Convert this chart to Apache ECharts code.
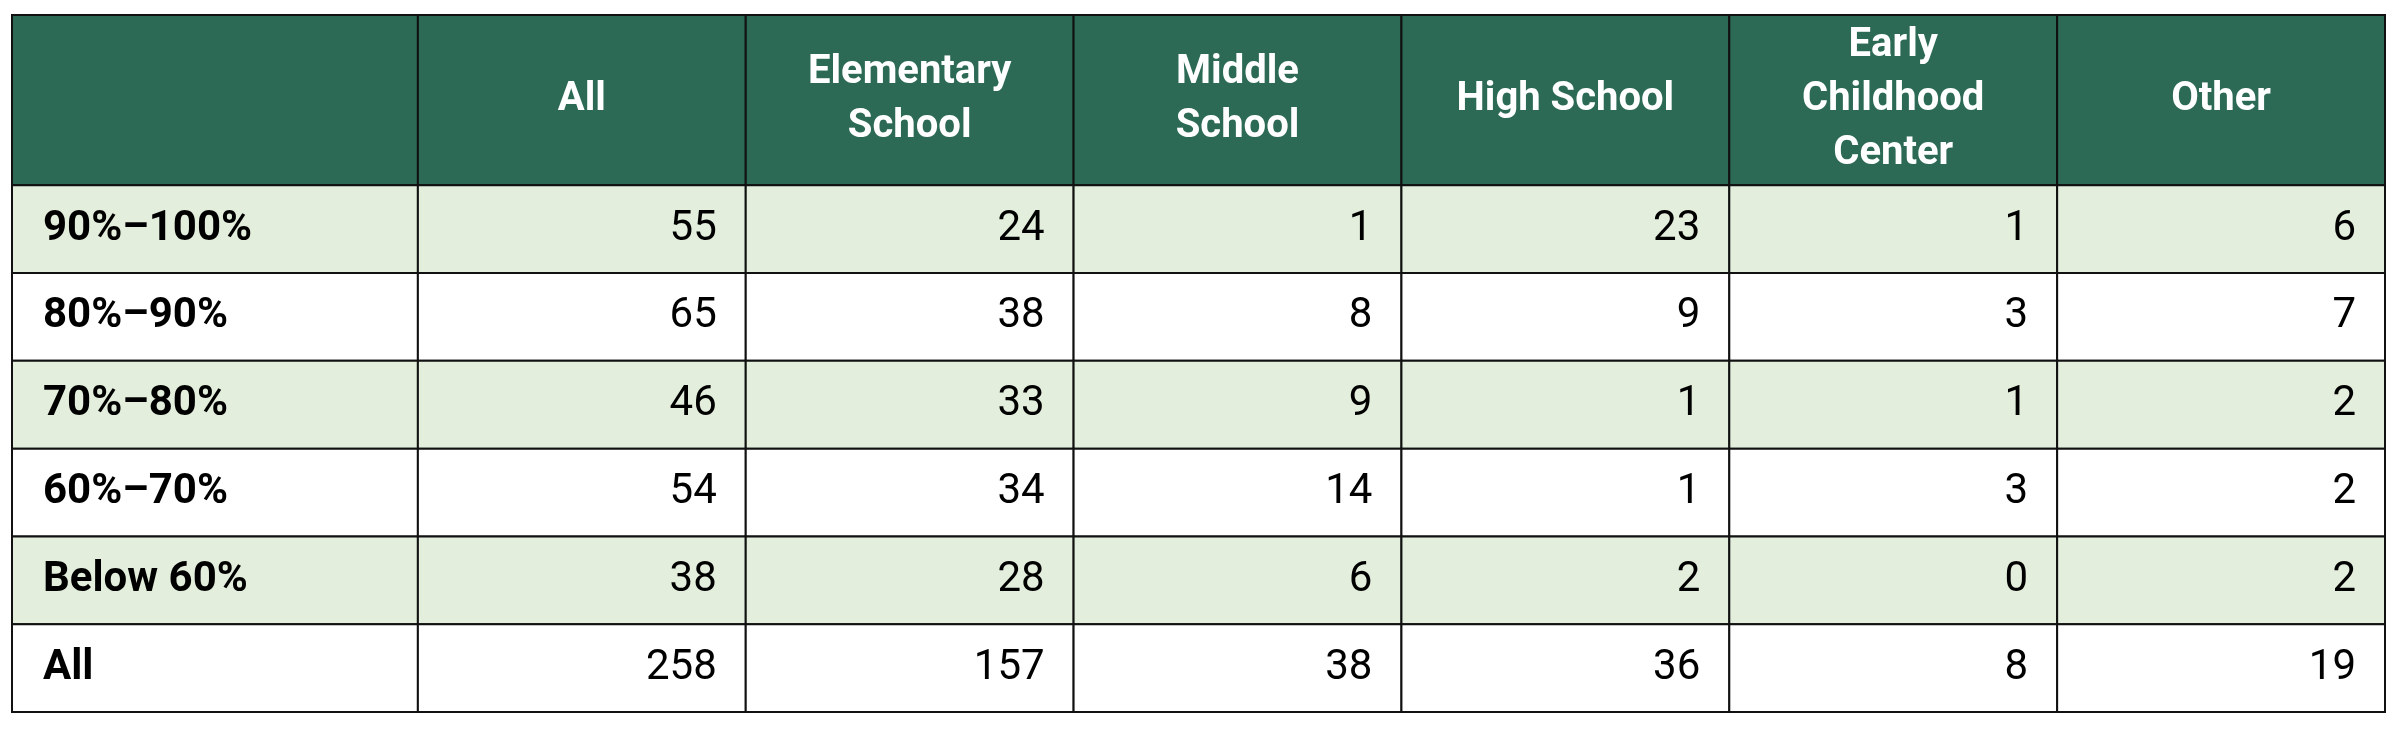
<!DOCTYPE html>
<html><head><meta charset="utf-8">
<script src="https://cdn.jsdelivr.net/npm/echarts@6/dist/echarts.min.js"></script>
<style>html,body{margin:0;background:#fff}#c{width:2400px;height:732px}</style>
</head><body><div id="c"></div>
<script>
const columns = ["", "All", "Elementary\nSchool", "Middle\nSchool", "High School", "Early\nChildhood\nCenter", "Other"];
const rowLabels = ["90%–100%", "80%–90%", "70%–80%", "60%–70%", "Below 60%", "All"];
const allSchools = [55, 65, 46, 54, 38, 258];
const elementary = [24, 38, 33, 34, 28, 157];
const middle = [1, 8, 9, 14, 6, 38];
const high = [23, 9, 1, 1, 2, 36];
const earlyChildhood = [1, 3, 1, 3, 0, 8];
const other = [6, 7, 2, 2, 2, 19];

const valueCols = [allSchools, elementary, middle, high, earlyChildhood, other];
const firstW = 1.238, headH = 1.94;
const colStart = c => c === 0 ? 0 : firstW + (c - 1);
const colEnd = c => c === 0 ? firstW : firstW + c;
const rowStart = r => r < 0 ? 0 : headH + r;
const rowEnd = r => r < 0 ? headH : headH + r + 1;

const data = [];
columns.forEach((t, c) => data.push([c, -1, t]));
rowLabels.forEach((t, r) => {
  data.push([0, r, t]);
  valueCols.forEach((arr, i) => data.push([i + 1, r, String(arr[r])]));
});

const chart = echarts.init(document.getElementById('c'));
chart.setOption({
  animation: false,
  grid: {left: 12, right: 15, top: 15, bottom: 20},
  xAxis: {type: 'value', min: 0, max: firstW + 6, show: false},
  yAxis: {type: 'value', min: 0, max: headH + 6, inverse: true, show: false},
  series: [{
    type: 'custom',
    data: data,
    renderItem: (params, api) => {
      const c = api.value(0), r = api.value(1), t = data[params.dataIndex][2];
      const p0 = api.coord([colStart(c), rowStart(r)]);
      const p1 = api.coord([colEnd(c), rowEnd(r)]);
      const fill = r < 0 ? '#2C6A56' : (r % 2 === 0 && r < 5 ? '#E3EFDC' : '#ffffff');
      const header = r < 0, label = c === 0;
      let tx, align;
      if (header) { tx = (p0[0] + p1[0]) / 2; align = 'center'; }
      else if (label) { tx = p0[0] + 31; align = 'left'; }
      else { tx = p1[0] - 29; align = 'right'; }
      return {
        type: 'group',
        children: [
          {type: 'rect', shape: {x: p0[0], y: p0[1], width: p1[0] - p0[0], height: p1[1] - p0[1]},
           style: {fill: fill, stroke: '#111', lineWidth: 2}},
          {type: 'text', style: {
            x: tx, y: (p0[1] + p1[1]) / 2, text: t, align: align, verticalAlign: 'middle',
            fill: header ? '#fff' : '#000',
            font: ((header || label) ? 'bold ' : '') + (header ? '40px' : '42px') + ' Roboto',
            lineHeight: 54
          }}
        ]
      };
    }
  }]
});
</script></body></html>
